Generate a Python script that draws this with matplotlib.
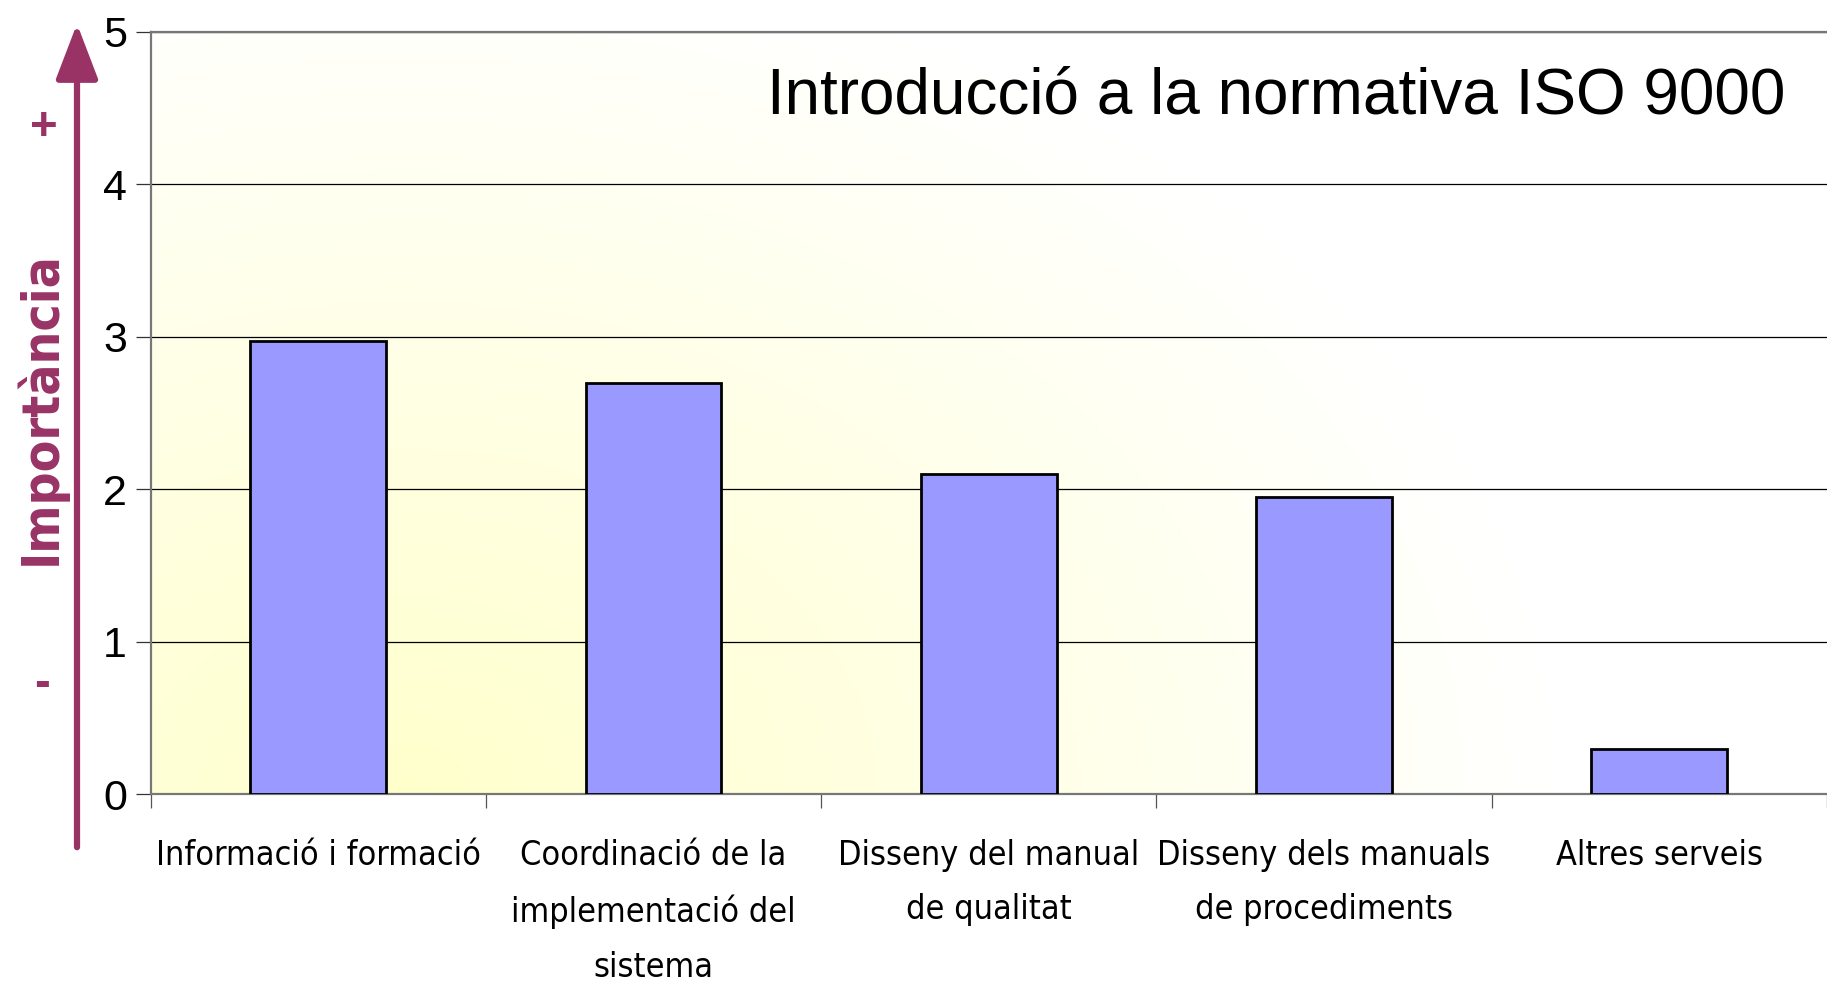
import numpy as np
import matplotlib
matplotlib.use("Agg")
import matplotlib.pyplot as plt
from matplotlib.patches import FancyArrowPatch
from matplotlib.colors import to_rgb

# data
categories = ["Informació i formació",
              "Coordinació de la\nimplementació del\nsistema",
              "Disseny del manual\nde qualitat",
              "Disseny dels manuals\nde procediments",
              "Altres serveis"]
values = [2.97, 2.70, 2.10, 1.95, 0.30]
yticks = [0, 1, 2, 3, 4, 5]

purple = "#993366"
plt.rcParams["font.family"] = ["Liberation Sans", "DejaVu Sans"]

fig = plt.figure(figsize=(18.27, 9.85), dpi=100)
ax = fig.add_axes([0.0825, 0.1936, 0.9175, 0.7741])

# yellow to white gradient background
nx, ny = 400, 200
gx, gy = np.meshgrid(np.linspace(0, 1, nx), np.linspace(0, 1, ny))
d = np.sqrt(((gx - 0.15) * 1.6) ** 2 + (gy * 1.0) ** 2)
t = np.clip(d / 1.1, 0, 1)[..., None]
yel = np.array(to_rgb("#ffffcc"))
wht = np.array([1.0, 1.0, 1.0])
img = yel * (1 - t) + wht * t
n = len(categories)
ax.imshow(img, extent=[-0.5, n - 0.5, 0, 5], origin="lower",
          aspect="auto", zorder=0)

x = np.arange(n)
ax.bar(x, values, width=0.405, color="#9999ff", edgecolor="black",
       linewidth=2.0, zorder=3)

ax.set_xlim(-0.5, n - 0.5)
ax.set_ylim(0, 5)
ax.set_yticks(yticks)
ax.yaxis.grid(True, color="black", linewidth=0.9, zorder=1)
ax.set_axisbelow(True)
ax.set_yticklabels([str(v) for v in yticks], fontsize=31)
ax.tick_params(axis="y", length=11, width=0.9, color="#333333", pad=6)

ax.set_xticks(x)
ax.set_xticklabels(categories, fontsize=24.5, family="DejaVu Sans", fontstretch="condensed",
                   linespacing=1.83)
ax.set_xticks(np.arange(n + 1) - 0.5, minor=True)
ax.tick_params(axis="x", which="major", length=0, pad=32)
ax.tick_params(axis="x", which="minor", length=10, width=0.9, color="#555555")

for s in ["left", "bottom", "top"]:
    ax.spines[s].set_color("#777777")
    ax.spines[s].set_linewidth(1.6)
ax.spines["right"].set_visible(False)

ax.text(0.975, 0.915, "Introducció a la normativa ISO 9000", transform=ax.transAxes,
        ha="right", va="center", fontsize=46, zorder=5)

# importance arrow on the left
arrow = FancyArrowPatch((77 / 1827, 1 - 850 / 985), (77 / 1827, 1 - 21 / 985),
                        transform=fig.transFigure, arrowstyle="-|>,head_length=34,head_width=13",
                        color=purple, linewidth=4.5, mutation_scale=1)
fig.add_artist(arrow)
fig.text(41 / 1827, 1 - 408 / 985, "Importància", rotation=90, ha="center", va="center",
         fontsize=37, color=purple, fontweight="bold", family="DejaVu Sans",
         fontstretch="condensed")
fig.text(44 / 1827, 1 - 128 / 985, "+", ha="center", va="center",
         fontsize=34, color=purple, fontweight="bold")
fig.text(42 / 1827, 1 - 684 / 985, "-", ha="center", va="center",
         fontsize=34, color=purple, fontweight="bold")

fig.savefig("out.png", dpi=100)
